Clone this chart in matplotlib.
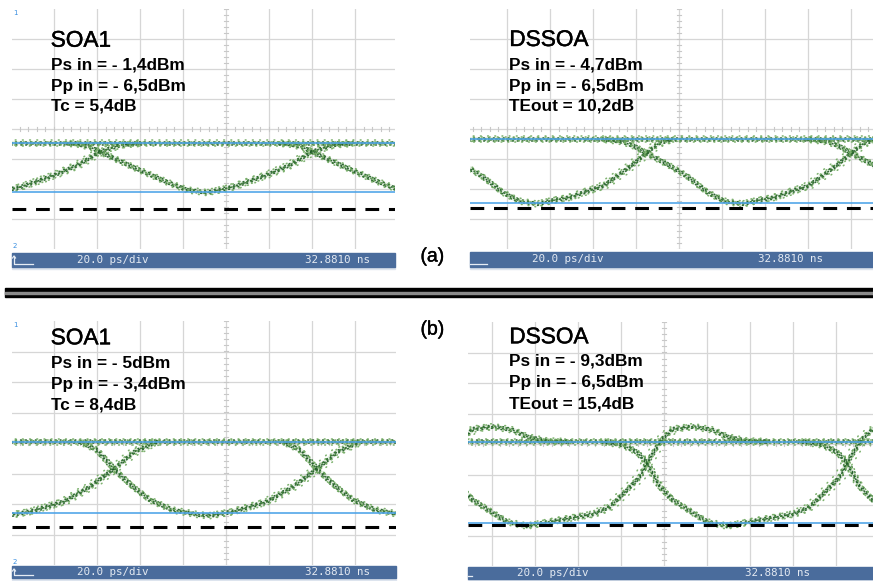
import numpy as np
import matplotlib
matplotlib.use("Agg")
import matplotlib.pyplot as plt
import matplotlib.patheffects as pe
from matplotlib.patches import Rectangle
from matplotlib.lines import Line2D

W, H = 873, 581

# ---------------- data (time in ps, level in screen divisions) ----------------
# (a) SOA1
A1_T = [-65.1, -60.5, -54.4, -49.8, -34.4, -18.6, -9.3, 0.0, 12.1, 27.9, 38.6, 48.8, 58.6, 67.9]
A1_V = [-0.48, -0.50, -0.60, -0.76, -1.27, -1.77, -2.03, -2.12, -1.93, -1.53, -1.20, -0.76, -0.53, -0.48]
A1_MINS = [-107.4, -8.8, 89.8]
A1_LEVELS = [-0.48, -2.09]      # blue reference lines
A1_DASH = -2.67
A1_TEXT = ["SOA1", "Ps in = - 1,4dBm", "Pp in = - 6,5dBm", "Tc = 5,4dB"]

# (a) DSSOA
A2_T = [-65.1, -55.8, -50.2, -44.7, -34.9, -25.6, -16.3, -8.4, 0.0, 7.9, 15.3, 23.3, 30.7, 39.1, 44.2, 51.2, 56.7, 62.8]
A2_V = [-0.34, -0.42, -0.57, -0.80, -1.17, -1.57, -2.10, -2.40, -2.50, -2.37, -2.28, -2.07, -1.90, -1.47, -1.20, -0.78, -0.47, -0.35]
A2_MINS = [-161.3, -66.0, 29.3, 124.6]
A2_LEVELS = [-0.34, -2.48]
A2_DASH = -2.64
A2_TEXT = ["DSSOA", "Ps in = - 4,7dBm", "Pp in = - 6,5dBm", "TEout = 10,2dB"]

# (b) SOA1
B1_T = [-60.5, -52.6, -44.2, -35.8, -27.9, -17.2, -4.7, 0.0, 10.7, 26.5, 38.6, 50.2, 59.1, 69.8]
B1_V = [0.04, -0.23, -0.89, -1.44, -1.87, -2.20, -2.36, -2.38, -2.25, -1.92, -1.43, -0.82, -0.29, 0.04]
B1_MINS = [-101.8, -7.4, 87.0]
B1_LEVELS = [0.04, -2.29]
B1_DASH = -2.75
B1_TEXT = ["SOA1", "Ps in = - 5dBm", "Pp in = - 3,4dBm", "Tc = 8,4dB"]

# (b) DSSOA
B2_T = [-58.1, -48.8, -41.9, -37.2, -31.2, -25.1, -15.8, -9.3, 0.0, 15.3, 30.7, 38.6, 46.5, 52.6,
        55.8, 59.5, 63.3, 67.9, 77.2, 86.5, 93.0, 102.3, 111.6]
B2_V = [0.08, -0.03, -0.26, -0.62, -1.40, -1.84, -2.26, -2.55, -2.69, -2.49, -2.30, -2.06, -1.51, -1.07,
        -0.62, -0.20, 0.20, 0.49, 0.57, 0.46, 0.24, 0.10, 0.08]
B2_MINS = [-156.7, -63.7, 29.3, 122.3]
B2_LEVELS = [0.08, -2.58]
B2_DASH = -2.66
B2_TEXT = ["DSSOA", "Ps in = - 9,3dBm", "Pp in = - 6,5dBm", "TEout = 15,4dB"]

SCALE_TEXT = "20.0 ps/div"
TIME_TEXT = "32.8810 ns"
PANEL_LABELS = ["(a)", "(b)"]

# ---------------- figure ----------------
fig = plt.figure(figsize=(W / 100, H / 100), dpi=100)
fig.patch.set_facecolor("white")

FONT = "Liberation Sans"
GRID_C = "#d6d6d6"
BLUE = "#4ea4e8"
GREEN_D = "#1f5c25"
GREEN_M = "#3b7a35"
GREEN_L = "#74ac64"
BAR_C = "#4a6c9c"

# dotted band styling: (time shift ps, level shift div, dash gap, colour)
BAND = [(0.0, 0.0, 1.8, GREEN_D), (0.0, -0.05, 2.5, GREEN_D), (0.0, 0.05, 2.6, GREEN_D),
        (-1.2, -0.02, 3.0, GREEN_M), (1.2, 0.02, 3.2, GREEN_M),
        (0.0, -0.10, 3.8, GREEN_L), (0.0, 0.10, 4.0, GREEN_L),
        (-2.3, 0.06, 4.5, GREEN_L), (2.3, -0.06, 4.3, GREEN_L)]


def fx(x):
    return x / W


def fy(y):
    return 1 - y / H


def px_axes(x0, y0, x1, y1, z=1):
    return fig.add_axes([x0 / W, 1 - y1 / H, (x1 - x0) / W, (y1 - y0) / H], zorder=z)


def draw_screen(box, xlim, T, V, mins, levels, dash, show_markers):
    x0, y0, x1, y1 = box
    ax = px_axes(x0, y0, x1, y1)
    ax.set_xlim(*xlim)
    ax.set_ylim(-4, 4)
    ax.set_axis_off()
    # graticule
    for gx in np.arange(-100, 101, 20):
        if xlim[0] < gx < xlim[1]:
            ax.axvline(gx, color=GRID_C, lw=0.9, zorder=0)
    for gy in np.arange(-3, 4, 1):
        ax.axhline(gy, color=GRID_C, lw=0.9, zorder=0)
    for tx in np.arange(-100, 101, 4):
        if xlim[0] < tx < xlim[1]:
            ax.plot([tx, tx], [-0.08, 0.08], color="#c8c8c8", lw=0.8, zorder=0)
    for ty in np.arange(-4, 4.01, 0.2):
        ax.plot([-0.9, 0.9], [ty, ty], color="#c8c8c8", lw=0.8, zorder=0)
    # reference lines
    for lv in levels:
        ax.axhline(lv, color=BLUE, lw=1.3, zorder=5, alpha=0.9)
    ax.axhline(dash, color="black", lw=2.2, ls=(0, (4.5, 3.2)), zorder=6)
    # eye traces: steady "1" level plus repeated transition profile
    T = np.asarray(T)
    V = np.asarray(V)
    top = levels[0]
    ax.plot(list(xlim), [top, top], color=GREEN_L, lw=3.0, alpha=0.18, zorder=3)
    for m in mins:
        ax.plot(T + m, V, color=GREEN_L, lw=3.4, alpha=0.18, zorder=3, solid_capstyle="round")
    for k, (dt, dv, gap, col) in enumerate(BAND):
        ls = (k * 0.41, (0.5, gap))
        ax.plot(list(xlim), [top + dv, top + dv], color=col, lw=1.15, ls=ls,
                dash_capstyle="round", alpha=0.92, zorder=4)
        for m in mins:
            ax.plot(T + m + dt, V + dv, color=col, lw=1.15, ls=ls, dash_capstyle="round",
                    alpha=0.92, zorder=4)
    if show_markers:
        fig.text(fx(x0 + 1), fy(y0 + 6), "1", color="#3a8fe0", fontsize=5, family="DejaVu Sans")
        fig.text(fx(x0 + 1), fy(y1 - 1), "2", color="#3a8fe0", fontsize=5, family="DejaVu Sans")
    return ax


def draw_bar(box, xs, glyph):
    x0, y0, x1, y1 = box
    fig.patches.append(Rectangle((fx(x0), fy(y1 + 2)), (x1 - x0) / W, 2 / H,
                                 transform=fig.transFigure, color="#dde4ee", zorder=0))
    fig.patches.append(Rectangle((fx(x0), fy(y1)), (x1 - x0) / W, (y1 - y0) / H,
                                 transform=fig.transFigure, color=BAR_C, zorder=1))
    yc = (y0 + y1) / 2
    if glyph == "full":
        fig.lines.append(Line2D([fx(x0 + 2), fx(x0 + 2), fx(x0 + 21)],
                                [fy(y0 + 3), fy(y1 - 3), fy(y1 - 3)],
                                transform=fig.transFigure, color="#e6ecf4", lw=0.9))
        fig.lines.append(Line2D([fx(x0 + 0.5), fx(x0 + 2), fx(x0 + 3.5)],
                                [fy(y0 + 5), fy(y0 + 3), fy(y0 + 5)],
                                transform=fig.transFigure, color="#e6ecf4", lw=0.9))
    elif glyph:
        fig.lines.append(Line2D([fx(x0), fx(x0 + glyph)], [fy(y1 - 3), fy(y1 - 3)],
                                transform=fig.transFigure, color="#e6ecf4", lw=0.9))
    fig.text(fx(xs[0]), fy(yc), SCALE_TEXT, color="#e4eaf2", fontsize=7.8,
             family="DejaVu Sans Mono", va="center", ha="left")
    fig.text(fx(xs[1]), fy(yc), TIME_TEXT, color="#e4eaf2", fontsize=7.8,
             family="DejaVu Sans Mono", va="center", ha="left")


HEAVY = [pe.withStroke(linewidth=0.3, foreground="black")]


def draw_texts(x, ys, lines):
    fig.text(fx(x), fy(ys[0]), lines[0], fontsize=16.3, family=FONT, va="baseline", zorder=10,
             path_effects=HEAVY)
    for yy, s in zip(ys[1:], lines[1:]):
        fig.text(fx(x), fy(yy), s, fontsize=12.4, family=FONT, weight="bold",
                 va="baseline", zorder=10)


# panels
draw_screen((12, 9, 395, 249), (-99.5, 78.6), A1_T, A1_V, A1_MINS, A1_LEVELS, A1_DASH, True)
draw_screen((470, 9, 873, 249), (-97.2, 90.2), A2_T, A2_V, A2_MINS, A2_LEVELS, A2_DASH, False)
draw_screen((12, 321, 396, 565), (-99.5, 79.0), B1_T, B1_V, B1_MINS, B1_LEVELS, B1_DASH, True)
draw_screen((468, 322, 873, 566), (-91.1, 97.2), B2_T, B2_V, B2_MINS, B2_LEVELS, B2_DASH, False)

draw_bar((12, 253, 395, 267), (77, 305), "full")
draw_bar((470, 252, 873, 267), (532, 758), 17)
draw_bar((12, 566, 396, 578), (77, 305), "full")
draw_bar((468, 567, 873, 579), (517, 745), 4)

draw_texts(50.7, [46.7, 70, 90.7, 110.7], A1_TEXT)
draw_texts(509.3, [46, 70, 90.7, 110.7], A2_TEXT)
draw_texts(50.7, [344.3, 367.7, 389.3, 410], B1_TEXT)
draw_texts(509.3, [343.3, 365.7, 387.3, 408.3], B2_TEXT)

# panel labels
fig.text(fx(432.5), fy(257), PANEL_LABELS[0], fontsize=14, family=FONT, ha="center", va="center",
         path_effects=HEAVY)
fig.text(fx(432.5), fy(330), PANEL_LABELS[1], fontsize=14, family=FONT, ha="center", va="center",
         path_effects=HEAVY)

# divider
fig.patches.append(Rectangle((fx(5), fy(297)), (873 - 5) / W, 9 / H, transform=fig.transFigure,
                             color="black", zorder=1))
fig.patches.append(Rectangle((fx(5), fy(293.5)), (873 - 5) / W, 2 / H, transform=fig.transFigure,
                             color="#8a8a8a", zorder=2))

fig.savefig("out.png", dpi=100, facecolor="white")
